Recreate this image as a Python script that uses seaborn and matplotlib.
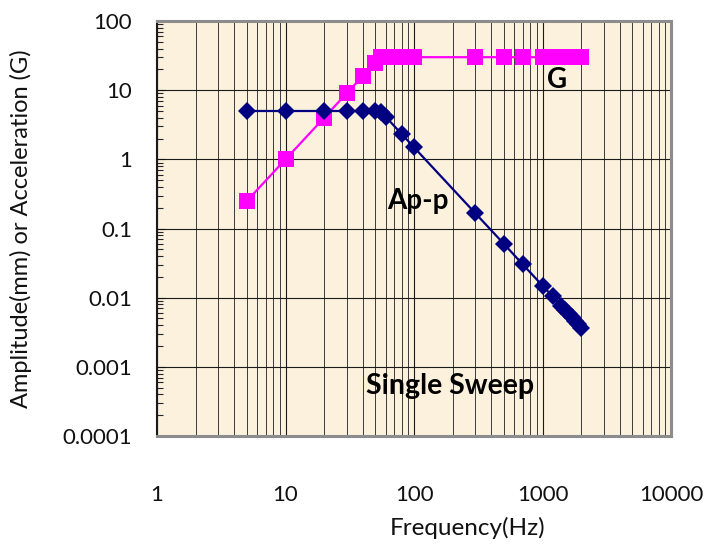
import numpy as np
import pandas as pd
import matplotlib
matplotlib.use("Agg")
import matplotlib.pyplot as plt
import seaborn as sns
from matplotlib.ticker import LogLocator, FuncFormatter, NullFormatter

# Acceleration (G) series
g_freq = [5, 10, 20, 30, 40, 50, 55, 60, 70, 80, 90, 100, 300, 500, 700,
          1000, 1200, 1400, 1500, 1600, 1700, 1800, 1900, 2000]
g_vals = [0.25, 1.0, 4.0, 9.1, 16, 25, 30, 30, 30, 30, 30, 30, 30, 30, 30,
          30, 30, 30, 30, 30, 30, 30, 30, 30]

# Peak-peak amplitude (mm) series
a_freq = [5, 10, 20, 30, 40, 50, 55, 60, 80, 100, 300, 500, 700,
          1000, 1200, 1400, 1500, 1600, 1700, 1800, 1900, 2000]
a_vals = [5, 5, 5, 5, 5, 5, 4.9, 4.15, 2.33, 1.49, 0.166, 0.06, 0.0304,
          0.0149, 0.0104, 0.0076, 0.0066, 0.0058, 0.0052, 0.0046, 0.0041, 0.0037]

sns.set_theme(style="white")
plt.rcParams['font.family'] = ['Lato', 'DejaVu Sans']

fig = plt.figure(figsize=(7.12, 5.46), dpi=100)
ax = fig.add_axes([0.2205, 0.2015, 0.722, 0.76])
ax.set_facecolor('#fcf1dc')
ax.set_xscale('log')
ax.set_yscale('log')

df_g = pd.DataFrame({'freq': g_freq, 'val': g_vals})
df_a = pd.DataFrame({'freq': a_freq, 'val': a_vals})

sns.lineplot(data=df_g, x='freq', y='val', color='#ff00ff', marker='s',
             markersize=11.5, markeredgewidth=0, linewidth=1.6, ax=ax, zorder=4)
sns.lineplot(data=df_a, x='freq', y='val', color='#000080', marker='D',
             markersize=9, markeredgewidth=0, linewidth=1.6, ax=ax, zorder=5)

ax.set_xlim(1, 10000)
ax.set_ylim(0.0001, 100)

fmt = FuncFormatter(lambda v, p: f'{v:g}')
ax.xaxis.set_major_locator(LogLocator(base=10, numticks=10))
ax.xaxis.set_minor_locator(LogLocator(base=10, subs=np.arange(2, 10), numticks=20))
ax.yaxis.set_major_locator(LogLocator(base=10, numticks=10))
ax.yaxis.set_minor_locator(LogLocator(base=10, subs=np.arange(2, 10), numticks=20))
ax.xaxis.set_major_formatter(fmt)
ax.yaxis.set_major_formatter(fmt)
ax.xaxis.set_minor_formatter(NullFormatter())
ax.yaxis.set_minor_formatter(NullFormatter())

# grid: x major + minor, y major only
ax.grid(which='major', axis='both', color='#1a1a1a', linewidth=0.8)
ax.grid(which='minor', axis='x', color='#3a3a3a', linewidth=0.7)
ax.set_axisbelow(True)

ax.tick_params(axis='x', which='both', length=0, pad=35, labelsize=16, colors='#111111')
ax.tick_params(axis='y', which='major', direction='in', length=6, width=0.8,
               left=True, pad=18, labelsize=16, colors='#111111')
ax.tick_params(axis='y', which='minor', direction='in', length=4, width=0.8, left=True)

for side in ['top', 'right', 'bottom']:
    ax.spines[side].set_color('#8c8c8c')
    ax.spines[side].set_linewidth(2.2)
ax.spines['left'].set_color('#1a1a1a')
ax.spines['left'].set_linewidth(1.5)

ax.set_xlabel('Frequency(Hz)', fontsize=17.5, color='#111111')
ax.xaxis.set_label_coords(0.605, -0.195)
ax.set_ylabel('Amplitude(mm) or Acceleration (G)', fontsize=17, color='#111111')
ax.yaxis.set_label_coords(-0.243, 0.5)

ax.text(1300, 14, 'G', fontsize=20, fontweight='bold', color='black', ha='center', va='center')
ax.text(108, 0.25, 'Ap-p', fontsize=20, fontweight='bold', color='black', ha='center', va='center')
ax.text(190, 0.00052, 'Single Sweep', fontsize=20.5, fontweight='bold', color='black',
        ha='center', va='center')

plt.savefig('out.png', dpi=100)
plt.close()
